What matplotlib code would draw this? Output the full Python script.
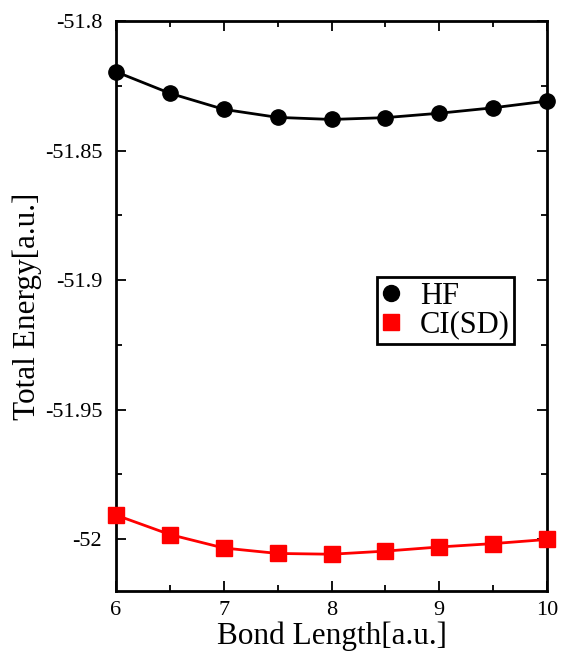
import matplotlib
matplotlib.use("Agg")
import matplotlib.pyplot as plt
from matplotlib.lines import Line2D
from matplotlib.ticker import MultipleLocator

# bond length vs total energy, HF and CI(SD)
bond_length = [6.0, 6.5, 7.0, 7.5, 8.0, 8.5, 9.0, 9.5, 10.0]
hf_energy = [-51.8196, -51.8279, -51.8341, -51.8372, -51.8380,
             -51.8373, -51.8356, -51.8335, -51.8309]
cisd_energy = [-51.9907, -51.9982, -52.0034, -52.0055, -52.0058,
               -52.0046, -52.0030, -52.0017, -52.0001]
legend_labels = ['HF', 'CI(SD)']

plt.rcParams['font.family'] = ['Liberation Serif', 'DejaVu Serif']

fig = plt.figure(figsize=(5.64, 6.54), dpi=100)
ax = fig.add_axes([0.2057, 0.0963, 0.7642, 0.8716])

ax.plot(bond_length, hf_energy, color='black', lw=2, marker='o', ms=11,
        clip_on=False, zorder=3)
ax.plot(bond_length, cisd_energy, color='red', lw=2, marker='s', ms=11.5,
        clip_on=False, zorder=3)

ax.set_xlim(6, 10)
ax.set_ylim(-52.02, -51.8)
ax.xaxis.set_major_locator(MultipleLocator(1))
ax.xaxis.set_minor_locator(MultipleLocator(0.5))
ax.yaxis.set_major_locator(MultipleLocator(0.05))
ax.yaxis.set_minor_locator(MultipleLocator(0.025))
ax.yaxis.set_major_formatter(plt.FuncFormatter(lambda v, p: ('%g' % round(v, 3))))

ax.tick_params(which='both', direction='in', top=True, right=True, width=1.3)
ax.tick_params(which='major', length=7.5, labelsize=16)
ax.tick_params(axis='y', which='major', pad=10)
ax.tick_params(axis='x', which='major', pad=7)
ax.tick_params(which='minor', length=4)
for s in ax.spines.values():
    s.set_linewidth(2)

ax.set_xlabel('Bond Length[a.u.]', fontsize=22.5, labelpad=1)
ax.set_ylabel('Total Energy[a.u.]', fontsize=22.5, labelpad=2)

handles = [Line2D([], [], color='black', marker='o', ls='none', ms=11.5),
           Line2D([], [], color='red', marker='s', ls='none', ms=11.5)]
leg = ax.legend(handles, legend_labels, loc='upper left',
                bbox_to_anchor=(0.606, 0.551), fontsize=22, fancybox=False,
                framealpha=1, edgecolor='black', handlelength=0.6,
                handletextpad=0.65, borderpad=0.15, labelspacing=0.0,
                borderaxespad=0)
leg.get_frame().set_linewidth(2)

fig.savefig('out.png', dpi=100)
